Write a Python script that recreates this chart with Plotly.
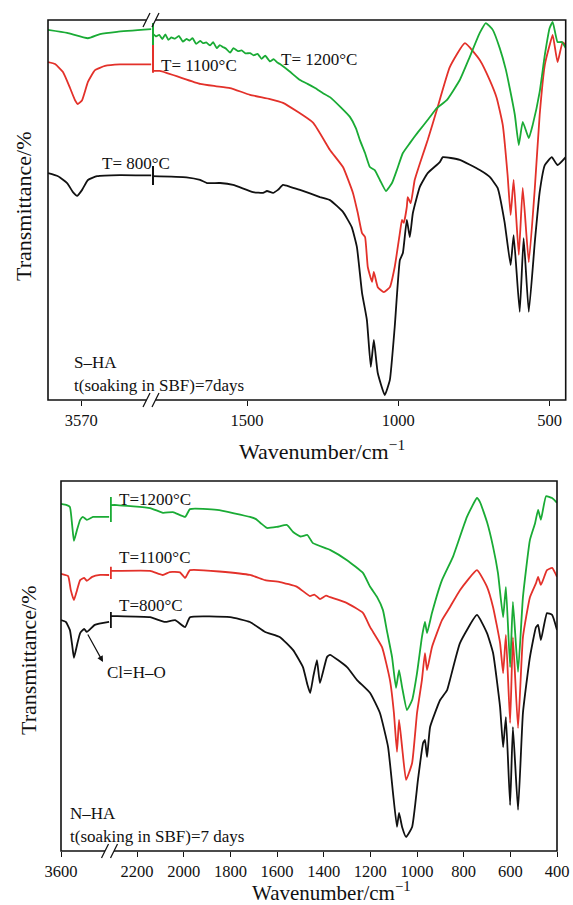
import plotly.graph_objects as go

# ---------------- Panel 1: S-HA ----------------
s_ticks_left = [3570]
s_ticks_right = [1500, 1000, 500]

s800_left_wn = [3650, 3626, 3604, 3590, 3580, 3568, 3554, 3532, 3477, 3402]
s800_left_t = [59.7, 58.9, 57.1, 54.7, 53.7, 55.3, 57.9, 58.9, 59.2, 59.1]
s800_right_wn = [1814, 1700, 1655, 1632, 1589, 1546, 1480, 1447, 1434, 1414, 1398, 1381, 1358, 1325,
                 1259, 1226, 1183, 1154, 1137, 1120, 1104, 1091, 1081, 1068, 1045, 1028, 1012, 995,
                 985, 972, 962, 952, 929, 903, 863, 853, 797, 731, 698, 672, 649, 629, 619, 599,
                 586, 569, 549, 533, 516, 493, 474, 447]
s800_right_t = [58.9, 58.6, 57.9, 57.1, 57.1, 56.6, 54.7, 54.5, 55.0, 54.5, 55.3, 56.6, 56.1, 55.3,
                53.4, 52.6, 49.5, 45.5, 40.3, 28.2, 21.1, 8.7, 15.8, 7.1, 1.3, 5.3, 19.2, 36.8,
                38.7, 47.4, 42.9, 49.2, 56.1, 59.7, 62.6, 63.9, 63.2, 60.5, 58.7, 55.8, 46.8, 35.5,
                43.4, 23.2, 42.6, 23.2, 41.6, 54.7, 61.8, 63.9, 61.8, 63.9]

s1100_left_wn = [3650, 3633, 3614, 3597, 3585, 3578, 3568, 3554, 3537, 3513, 3477, 3402]
s1100_left_t = [88.9, 88.4, 86.3, 82.1, 78.9, 77.9, 78.9, 83.7, 86.8, 87.9, 88.3, 88.3]
s1100_right_wn = [1814, 1788, 1655, 1605, 1556, 1490, 1424, 1381, 1282, 1226, 1183, 1150, 1134, 1120,
                  1110, 1101, 1087, 1081, 1068, 1048, 1028, 1012, 995, 988, 982, 972, 969, 959,
                  946, 922, 903, 873, 830, 780, 731, 698, 675, 655, 639, 629, 619, 602, 589, 569,
                  549, 533, 516, 500, 490, 474, 457, 447]
s1100_right_t = [86.6, 86.6, 83.2, 82.6, 82.1, 80.3, 79.2, 78.2, 73.0, 65.8, 61.3, 54.5, 49.2, 43.9,
                 42.9, 35.0, 31.1, 33.7, 29.7, 28.4, 29.7, 35.0, 43.9, 47.4, 46.6, 50.8, 53.4, 51.8,
                 57.9, 63.9, 68.4, 76.3, 87.6, 93.9, 89.5, 84.2, 79.5, 72.4, 59.2, 48.7, 57.9, 38.2,
                 55.8, 36.3, 55.8, 75.0, 88.2, 93.4, 96.1, 88.9, 94.2, 93.4]

s1200_left_wn = [3650, 3604, 3554, 3525, 3484, 3402]
s1200_left_t = [97.4, 96.6, 95.2, 96.3, 96.9, 97.6]
s1200_right_wn = [1814, 1800, 1790, 1780, 1770, 1760, 1750, 1738, 1725, 1712, 1700, 1690, 1680, 1668,
                  1655, 1645, 1635, 1622, 1612, 1600, 1590, 1580, 1570, 1556, 1545, 1530, 1518, 1505,
                  1490, 1478, 1465, 1452, 1440, 1424, 1412, 1400, 1391, 1360, 1325, 1300, 1275, 1250,
                  1226, 1190, 1160, 1140, 1127, 1110, 1094, 1078, 1061, 1041, 1021, 1005, 985, 962,
                  935, 900, 873, 840, 797, 764, 731, 711, 688, 665, 645, 632, 615, 602, 589, 569,
                  556, 533, 516, 500, 490, 474, 460, 447]
s1200_right_t = [96.6, 95.7, 96.1, 95.0, 96.2, 94.8, 95.4, 95.1, 95.8, 94.3, 95.0, 94.6, 95.2, 93.7,
                 94.5, 93.9, 94.1, 93.3, 94.2, 92.6, 93.4, 92.9, 92.5, 91.4, 92.6, 91.8, 92.0, 91.2,
                 91.3, 90.7, 91.1, 89.8, 90.6, 89.1, 89.7, 88.8, 88.4, 86.5, 84.2, 83.2, 82.1, 80.8,
                 79.7, 77.0, 74.5, 71.5, 68.4, 65.0, 61.3, 60.5, 57.9, 55.0, 57.1, 60.5, 65.0, 67.6,
                 70.5, 74.0, 76.8, 78.9, 84.2, 90.3, 96.6, 99.2, 97.4, 92.6, 87.0, 82.1, 75.0, 67.1,
                 73.2, 68.9, 72.4, 81.1, 90.8, 97.9, 99.5, 94.2, 94.2, 92.6]

s_break_wn = 1811
s800_break_t = [56.6, 61.6]
s1100_break_t = [86.1, 93.4]
s1200_break_t = [93.4, 99.2]

# ---------------- Panel 2: N-HA ----------------
n_ticks_left = [3600]
n_ticks_right = [2200, 2000, 1800, 1600, 1400, 1200, 1000, 800, 600, 400]

n800_left_wn = [3600, 3589, 3580, 3575, 3571, 3564, 3557, 3548, 3542, 3524, 3492]
n800_left_t = [62.4, 61.9, 59.7, 55.7, 52.2, 55.7, 58.9, 60.0, 59.2, 61.1, 61.9]
n800_right_wn = [2316, 2286, 2144, 2080, 2037, 1994, 1973, 1801, 1716, 1651, 1587, 1531, 1489, 1470,
                 1458, 1445, 1429, 1416, 1386, 1373, 1300, 1257, 1201, 1159, 1124, 1103, 1086, 1077,
                 1064, 1047, 1021, 996, 974, 966, 957, 944, 901, 871, 859, 816, 743, 700, 674, 644,
                 631, 619, 601, 589, 567, 546, 516, 490, 481, 469, 443, 421, 400]
n800_right_t = [63.5, 63.5, 63.2, 61.9, 62.4, 60.5, 63.2, 63.2, 61.9, 59.2, 57.8, 54.3, 49.7, 45.0,
                42.7, 47.0, 51.6, 45.4, 52.4, 53.0, 49.7, 46.2, 42.7, 37.3, 28.1, 15.7, 6.5, 10.3,
                6.5, 3.8, 6.5, 19.2, 29.2, 30.0, 25.4, 33.5, 40.8, 43.5, 46.2, 56.2, 63.8, 58.9,
                53.5, 38.9, 28.1, 36.2, 12.4, 33.5, 11.1, 37.3, 52.4, 60.5, 61.1, 57.0, 64.3, 63.8,
                59.7]

n1100_left_wn = [3600, 3584, 3578, 3571, 3564, 3557, 3548, 3542, 3530, 3512, 3492]
n1100_left_t = [74.9, 74.3, 70.5, 67.8, 70.5, 73.2, 73.8, 73.0, 74.1, 74.6, 74.6]
n1100_right_wn = [2316, 2286, 2144, 2090, 2060, 2016, 1994, 1973, 1716, 1651, 1587, 1514, 1459, 1440,
                  1416, 1390, 1373, 1300, 1231, 1201, 1150, 1116, 1099, 1086, 1077, 1064, 1047, 1021,
                  1000, 979, 966, 957, 936, 893, 859, 816, 743, 700, 674, 644, 631, 619, 601, 589,
                  567, 546, 516, 490, 481, 469, 443, 421, 400]
n1100_right_t = [75.7, 75.7, 75.7, 74.6, 75.4, 75.3, 73.8, 75.9, 74.6, 73.2, 72.7, 71.4, 68.9, 69.3,
                 68.1, 69.0, 68.6, 67.0, 64.3, 60.5, 55.1, 46.2, 37.3, 26.8, 35.4, 28.1, 19.2, 23.8,
                 37.3, 46.2, 53.5, 48.9, 55.1, 62.4, 65.9, 70.5, 75.9, 71.4, 65.9, 56.2, 48.1, 58.4,
                 34.6, 57.8, 33.2, 57.8, 68.6, 72.4, 74.1, 71.9, 75.9, 76.5, 74.1]

n1200_left_wn = [3600, 3587, 3580, 3575, 3571, 3564, 3557, 3551, 3542, 3528, 3512, 3492]
n1200_left_t = [93.8, 93.5, 93.0, 88.1, 83.8, 86.8, 89.5, 90.3, 89.5, 90.3, 90.3, 90.3]
n1200_right_wn = [2316, 2286, 2144, 2089, 2046, 1994, 1973, 1857, 1716, 1690, 1670, 1643, 1600, 1557,
                  1531, 1500, 1470, 1446, 1373, 1300, 1231, 1201, 1171, 1146, 1129, 1107, 1090, 1077,
                  1064, 1043, 1021, 1000, 979, 966, 957, 936, 893, 846, 786, 743, 730, 700, 674, 653,
                  631, 619, 601, 589, 567, 546, 516, 494, 481, 469, 447, 421, 400]
n1200_right_t = [93.5, 93.5, 92.7, 91.4, 91.6, 90.3, 92.4, 92.2, 90.3, 89.7, 88.6, 87.3, 87.6, 88.1,
                 86.2, 85.0, 85.4, 83.2, 81.4, 78.6, 75.1, 71.4, 68.6, 65.1, 59.5, 52.4, 44.1, 48.9,
                 44.3, 38.1, 40.8, 48.1, 57.8, 61.9, 58.9, 64.3, 73.2, 79.5, 90.3, 95.4, 94.3, 88.9,
                 82.2, 75.1, 63.2, 71.4, 49.7, 67.3, 48.4, 68.6, 84.1, 88.6, 92.2, 89.5, 95.9, 95.4,
                 94.1]

n_break_wn = 2313
n800_break_t = [60.3, 64.6]
n1100_break_t = [73.5, 76.8]
n1200_break_t = [88.9, 95.7]

# ---------------- styling ----------------
W, H = 573, 905
BLACK = "#111111"
RED = "#e3312a"
GREEN = "#1aab35"
FONT = "Liberation Serif, Times New Roman, serif"
LW = 1.8


def px(x):
    return x / W


def py(y):
    return 1 - y / H


fig = go.Figure()


def add_curve(xs, ys, color, xa, ya):
    fig.add_trace(go.Scatter(x=xs, y=ys, mode="lines", xaxis=xa, yaxis=ya,
                             line=dict(color=color, width=LW, shape="spline", smoothing=0.4),
                             showlegend=False, hoverinfo="skip"))


def add_break(wn, ts, color, xa, ya):
    fig.add_trace(go.Scatter(x=[wn, wn], y=ts, mode="lines", xaxis=xa, yaxis=ya,
                             line=dict(color=color, width=2.2),
                             showlegend=False, hoverinfo="skip"))


# panel 1
add_curve(s800_left_wn, s800_left_t, BLACK, "x", "y")
add_curve(s1100_left_wn, s1100_left_t, RED, "x", "y")
add_curve(s1200_left_wn, s1200_left_t, GREEN, "x", "y")
add_curve(s800_right_wn, s800_right_t, BLACK, "x2", "y")
add_curve(s1100_right_wn, s1100_right_t, RED, "x2", "y")
add_curve(s1200_right_wn, s1200_right_t, GREEN, "x2", "y")
add_break(s_break_wn, s800_break_t, BLACK, "x2", "y")
add_break(s_break_wn, s1100_break_t, RED, "x2", "y")
add_break(s_break_wn, s1200_break_t, GREEN, "x2", "y")

# panel 2
add_curve(n800_left_wn, n800_left_t, BLACK, "x3", "y2")
add_curve(n1100_left_wn, n1100_left_t, RED, "x3", "y2")
add_curve(n1200_left_wn, n1200_left_t, GREEN, "x3", "y2")
add_curve(n800_right_wn, n800_right_t, BLACK, "x4", "y2")
add_curve(n1100_right_wn, n1100_right_t, RED, "x4", "y2")
add_curve(n1200_right_wn, n1200_right_t, GREEN, "x4", "y2")
add_break(n_break_wn, n800_break_t, BLACK, "x4", "y2")
add_break(n_break_wn, n1100_break_t, RED, "x4", "y2")
add_break(n_break_wn, n1200_break_t, GREEN, "x4", "y2")

# panel geometry (pixels)
T_L, T_B, T_R, T_T, T_BRK = 48, 400, 565.7, 20, 152
B_L, B_B, B_R, B_T, B_BRK = 61, 851, 557, 481, 110

xcommon = dict(showgrid=False, zeroline=False, showline=False, ticks="outside", ticklen=5,
               tickwidth=1.3, tickcolor=BLACK, automargin=False,
               tickfont=dict(family=FONT, size=16.5, color=BLACK))
ycommon = dict(showgrid=False, zeroline=False, showline=False, showticklabels=False, ticks="",
               range=[0, 100], fixedrange=True, automargin=False)

fig.update_layout(
    template="none",
    width=W, height=H, margin=dict(l=0, r=0, t=0, b=0, pad=0, autoexpand=False),
    paper_bgcolor="white", plot_bgcolor="white", showlegend=False,
    font=dict(family=FONT, color=BLACK),
    xaxis=dict(domain=[px(T_L), px(T_BRK)], range=[3650, 3400], anchor="y",
               tickvals=s_ticks_left, **xcommon),
    xaxis2=dict(domain=[px(T_BRK), px(T_R)], range=[1814, 447], anchor="y",
                tickvals=s_ticks_right, **xcommon),
    xaxis3=dict(domain=[px(B_L), px(B_BRK)], range=[3600, 3490], anchor="y2",
                tickvals=n_ticks_left, **xcommon),
    xaxis4=dict(domain=[px(B_BRK), px(B_R)], range=[2316, 400], anchor="y2",
                tickvals=n_ticks_right, **xcommon),
    yaxis=dict(domain=[py(T_B), py(T_T)], anchor="x", **ycommon),
    yaxis2=dict(domain=[py(B_B), py(B_T)], anchor="x3", **ycommon),
)

shapes = []
for (l, t, r, b) in [(T_L, T_T, T_R, T_B), (B_L, B_T, B_R, B_B)]:
    shapes.append(dict(type="rect", xref="paper", yref="paper", x0=px(l), x1=px(r),
                       y0=py(b), y1=py(t), line=dict(color=BLACK, width=1.6), layer="above"))


def add_break_mark(xc, yc):
    shapes.append(dict(type="line", xref="paper", yref="paper", x0=px(xc - 4.5), x1=px(xc + 4.5),
                       y0=py(yc), y1=py(yc), line=dict(color="white", width=4), layer="above"))
    for dx in (-4.5, 4.5):
        shapes.append(dict(type="line", xref="paper", yref="paper",
                           x0=px(xc + dx - 3.5), y0=py(yc + 7), x1=px(xc + dx + 3.5), y1=py(yc - 7),
                           line=dict(color=BLACK, width=1.3), layer="above"))


add_break_mark(151, T_T)
add_break_mark(151, T_B)
add_break_mark(109.5, B_B)
fig.update_layout(shapes=shapes)

ann = []


def label(text, x, y, size=17, xanchor="left", angle=0):
    ann.append(dict(text=text, x=px(x), y=py(y), xref="paper", yref="paper", showarrow=False,
                    xanchor=xanchor, yanchor="middle", textangle=angle,
                    font=dict(family=FONT, size=size, color=BLACK)))


label("T= 1100°C", 159, 66)
label("T= 1200°C", 279, 59)
label("T= 800°C", 100, 163)
label("S–HA", 72, 362)
label("t(soaking in SBF)=7days", 72, 385)
label("Transmittance/%", 23, 206, size=22, xanchor="center", angle=-90)
label("Wavenumber/cm<sup>−1</sup>", 322, 450, size=22, xanchor="center")

label("T=1200°C", 117, 499)
label("T=1100°C", 117, 557)
label("T=800°C", 117, 605)
label("Cl=H–O", 105, 672)
label("N–HA", 68, 813)
label("t(soaking in SBF)=7 days", 68, 836)
label("Transmittance/%", 28, 660, size=22, xanchor="center", angle=-90)
label("Wavenumber/cm<sup>−1</sup>", 331, 891.5, size=21, xanchor="center")

ann.append(dict(text="", x=px(103), y=py(662), xref="paper", yref="paper", showarrow=True,
                ax=-16, ay=-29, arrowhead=2, arrowsize=1, arrowwidth=1.2, arrowcolor=BLACK,
                standoff=0))
fig.update_layout(annotations=ann)

fig.write_html("out.html")
